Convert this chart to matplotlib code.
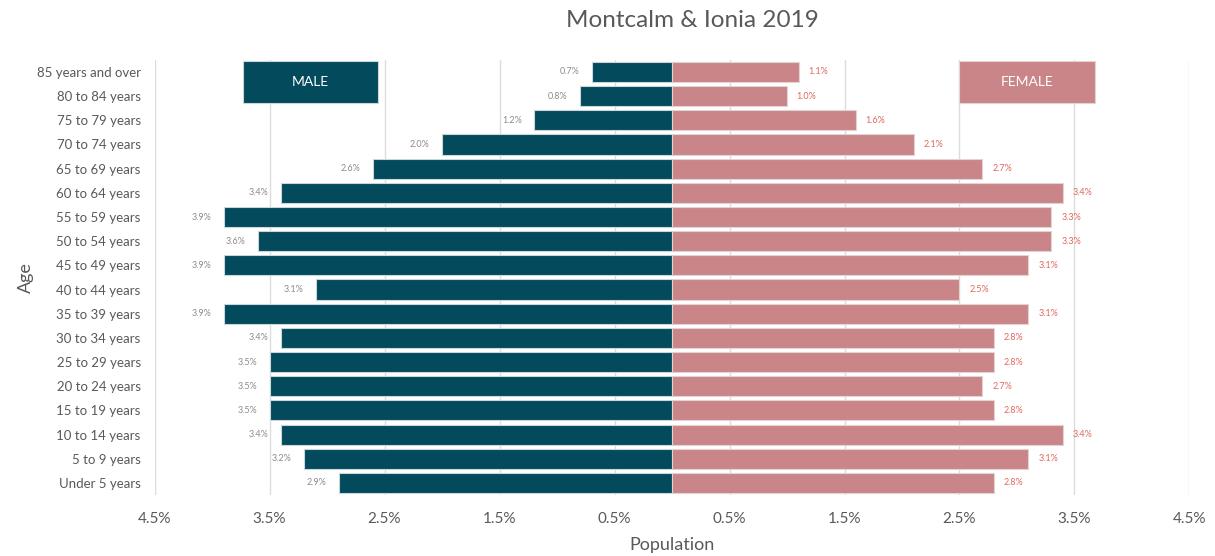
import matplotlib.pyplot as plt
from matplotlib.patches import Rectangle
import numpy as np

plt.rcParams['font.family'] = ['Lato', 'DejaVu Sans']

ages = ["Under 5 years", "5 to 9 years", "10 to 14 years", "15 to 19 years",
        "20 to 24 years", "25 to 29 years", "30 to 34 years", "35 to 39 years",
        "40 to 44 years", "45 to 49 years", "50 to 54 years", "55 to 59 years",
        "60 to 64 years", "65 to 69 years", "70 to 74 years", "75 to 79 years",
        "80 to 84 years", "85 years and over"]
male = [2.9, 3.2, 3.4, 3.5, 3.5, 3.5, 3.4, 3.9, 3.1, 3.9, 3.6, 3.9,
        3.4, 2.6, 2.0, 1.2, 0.8, 0.7]
female = [2.8, 3.1, 3.4, 2.8, 2.7, 2.8, 2.8, 3.1, 2.5, 3.1, 3.3, 3.3,
          3.4, 2.7, 2.1, 1.6, 1.0, 1.1]
ticks = [-4.5, -3.5, -2.5, -1.5, -0.5, 0.5, 1.5, 2.5, 3.5, 4.5]

male_c = "#024a5c"
female_c = "#c98587"
text_c = "#595959"

fig = plt.figure(figsize=(12.15, 5.56), dpi=100)
ax = fig.add_axes([0.1272, 0.1097, 0.8518, 0.7826])

y = np.arange(len(ages))
ax.barh(y, -np.array(male), height=0.83, color=male_c, edgecolor="#c9d6da", linewidth=0.8, zorder=3)
ax.barh(y, female, height=0.83, color=female_c, edgecolor="#e3d3d3", linewidth=0.8, zorder=3)

for i, (m, f) in enumerate(zip(male, female)):
    ax.annotate("%.1f%%" % m, (-m, i), xytext=(-9, 0), textcoords="offset points",
                ha="right", va="center", fontsize=6.5, color="#8c8c8c")
    ax.annotate("%.1f%%" % f, (f, i), xytext=(7, 0), textcoords="offset points",
                ha="left", va="center", fontsize=6.5, color="#e0685e")

ax.set_xlim(-4.5, 4.5)
ax.set_ylim(-0.5, len(ages) - 0.5)
ax.set_xticks(ticks)
ax.set_xticklabels(["%.1f%%" % abs(t) for t in ticks], fontsize=11, color=text_c)
ax.set_yticks(y)
ax.set_yticklabels(ages, fontsize=9.5, color=text_c)
ax.tick_params(length=0)
ax.tick_params(axis="x", pad=12)
ax.tick_params(axis="y", pad=10)
ax.grid(axis="x", color="#dcdcdc", linewidth=1, zorder=0)
ax.set_axisbelow(True)
for s in ax.spines.values():
    s.set_visible(False)

# label boxes
ax.add_patch(Rectangle((-3.73, 15.72), 1.17, 1.73, facecolor=male_c, edgecolor="#c9d6da",
                       linewidth=0.8, zorder=4, clip_on=False))
ax.text(-3.145, 16.6, "MALE", color="white", fontsize=10, ha="center", va="center", zorder=5)
ax.add_patch(Rectangle((2.5, 15.72), 1.18, 1.73, facecolor=female_c, edgecolor="#e3d3d3",
                       linewidth=0.8, zorder=4, clip_on=False))
ax.text(3.09, 16.6, "FEMALE", color="white", fontsize=10, ha="center", va="center", zorder=5)

fig.text(0.570, 0.964, "Montcalm & Ionia 2019", fontsize=17.5, color=text_c, ha="center", va="center")
fig.text(0.553, 0.020, "Population", fontsize=13, color=text_c, ha="center", va="center")
fig.text(0.021, 0.50, "Age", fontsize=13, color=text_c, ha="center", va="center", rotation=90)

plt.savefig("out.png", dpi=100)
